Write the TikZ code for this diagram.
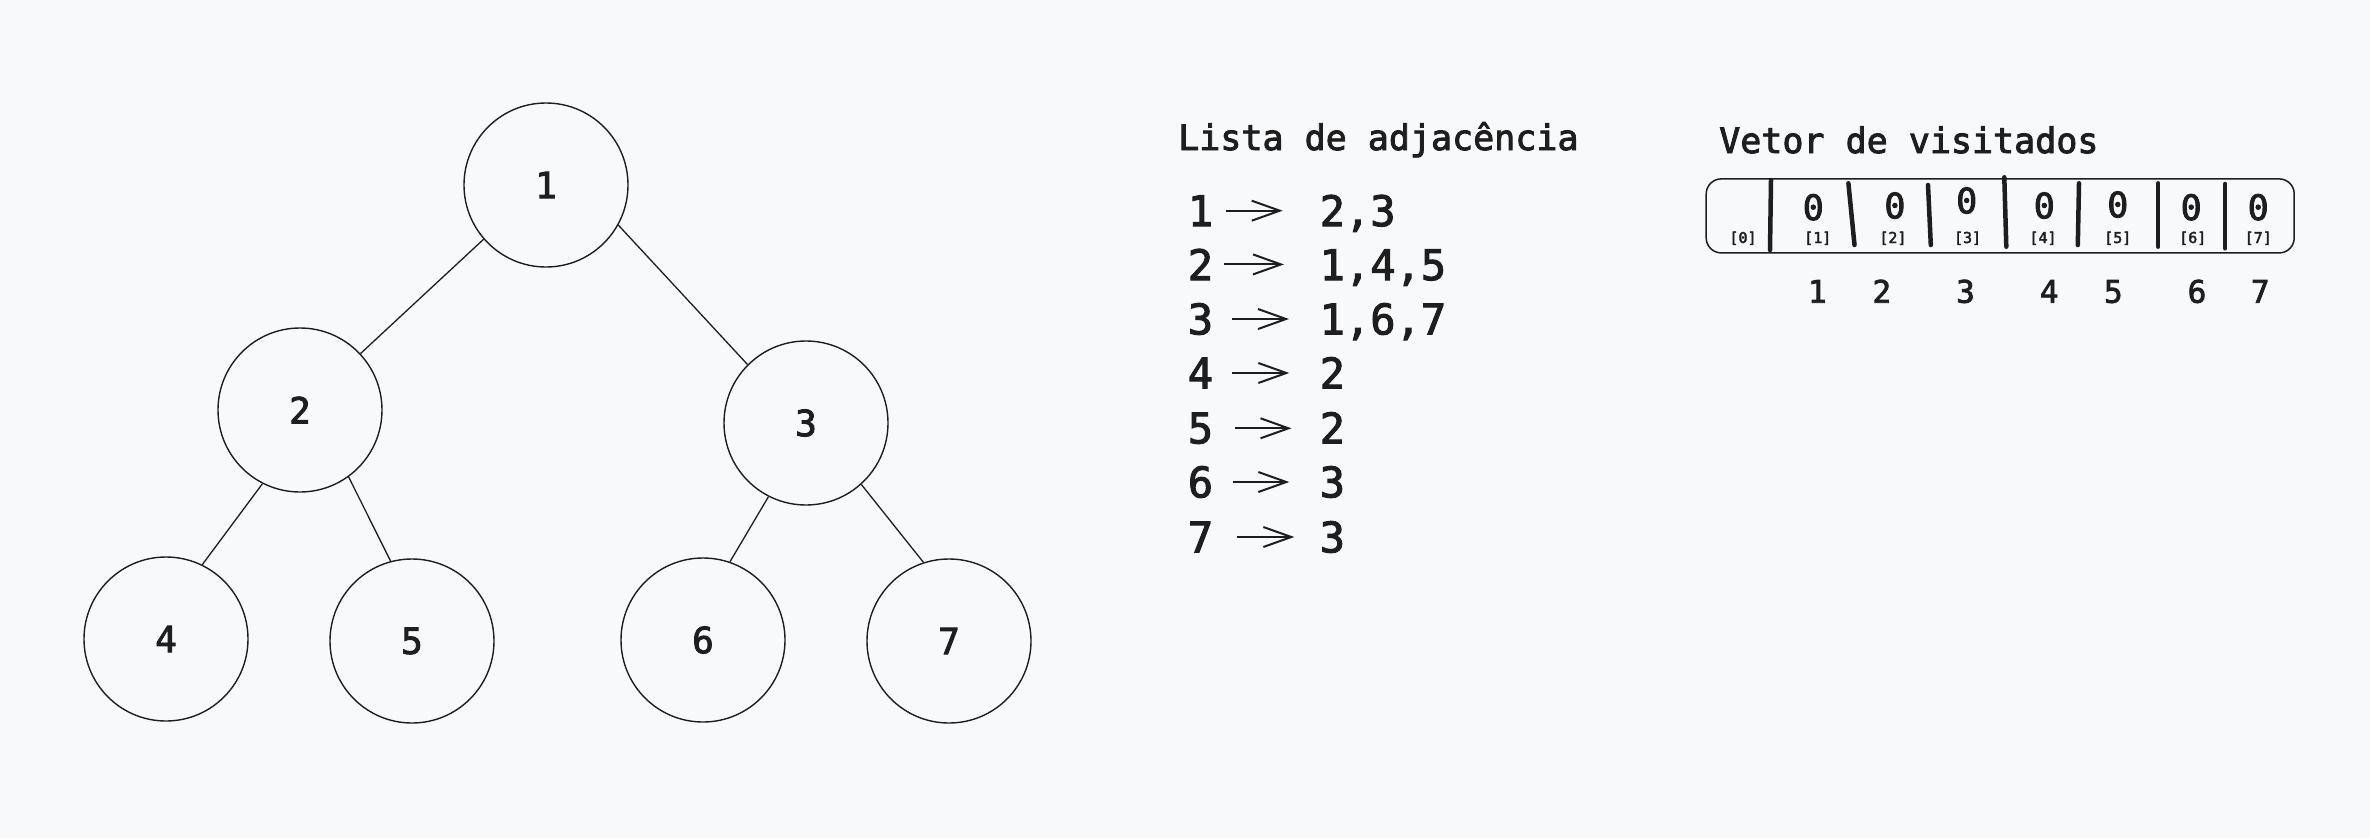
\documentclass[tikz,border=0pt]{standalone}
\usepackage{fontspec}
\newfontfamily\mono[FakeBold=2.5]{DejaVu Sans Mono}
\usetikzlibrary{arrows.meta}
\definecolor{bg}{HTML}{F8F9FB}
\definecolor{ink}{HTML}{1E1E1E}
\begin{document}
\begin{tikzpicture}[x=1pt,y=-1pt,
  vert/.style={circle,draw=ink,line width=1.4pt,minimum size=164pt,inner sep=0pt,text=ink,font=\mono\fontsize{36}{40}\selectfont},
  edge/.style={draw=ink,line width=1.3pt},
  ttl/.style={anchor=base west,inner sep=0pt,text=ink,font=\mono\fontsize{35}{40}\selectfont},
  lst/.style={inner sep=0pt,text=ink,font=\mono\fontsize{42}{48}\selectfont},
  arr/.style={draw=ink,line width=2pt,-{Straight Barb[length=28pt,width=20pt,line width=2pt]}},
  zero/.style={anchor=base,inner sep=0pt,text=ink,font=\mono\fontsize{35}{40}\selectfont},
  idx/.style={anchor=base,inner sep=0pt,text=ink,font=\mono\fontsize{15}{18}\selectfont},
  num/.style={anchor=base,inner sep=0pt,text=ink,font=\mono\fontsize{31}{36}\selectfont},
  divider/.style={draw=ink,line width=4.5pt,line cap=round},
  vecbox/.style={draw=ink,line width=1.5pt,rounded corners=15pt,minimum width=588pt,minimum height=74pt,inner sep=0pt}
]
\fill[bg] (0,0) rectangle (2370,838);
\useasboundingbox (0,0) rectangle (2370,838);

% tree
\node[vert] (n1) at (546,185) {1};
\node[vert] (n2) at (300,410) {2};
\node[vert] (n3) at (806,423) {3};
\node[vert] (n4) at (166,639) {4};
\node[vert] (n5) at (412,641) {5};
\node[vert] (n6) at (703,640) {6};
\node[vert] (n7) at (949,641) {7};
\draw[edge] (n1.221) -- (n2.43);
\draw[edge] (n1.-29) -- (n3.135);
\draw[edge] (n2.243) -- (n4.64);
\draw[edge] (n2.-54) -- (n5.105);
\draw[edge] (n3.243) -- (n6.71);
\draw[edge] (n3.-48) -- (n7.108);

% adjacency list
\node[ttl] (t1) at (1178,150) {Lista de adjacência};
\foreach \i/\y/\r/\a/\b in {1/226/{2,3}/12.5/36.8, 2/280/{1,4,5}/11/35.5, 3/334.3/{1,6,7}/18.5/30.5, 4/388.3/2/18.5/30.2, 5/443.3/2/22/28, 6/497.3/3/20/30.2, 7/552.3/3/23.5/25.2}{
  \node[lst,anchor=base] (l\i) at (1200.5,\y) {\i};
  \node[lst,anchor=base west] (r\i) at (1319.5,\y) {\r};
  \draw[arr] ([xshift=\a pt]l\i.east) -- ([xshift=-\b pt]l\i.east -| r\i.west);
}

% visited vector
\node[ttl] (t2) at (1719,153) {Vetor de visitados};
\node[vecbox] (vec) at (2000.2,215.9) {};
\draw[divider] (1771,180) -- (1770,250);
\draw[divider] (1848.4,183.3) -- (1854.5,245);
\draw[divider] (1928,185) -- (1930.8,245);
\draw[divider] (2004.3,177.3) -- (2006.3,246.7);
\draw[divider] (2079,183.3) -- (2077.8,245);
\draw[divider] (2158.2,183.3) -- (2158.2,246.7);
\draw[divider] (2225.1,184) -- (2225.1,248.3);
\foreach \i/\x/\y in {1/1813.3/220, 2/1894.9/218.3, 3/1966.7/213.3, 4/2044.3/218.3, 5/2117.8/217.3, 6/2191.2/220, 7/2258.2/220}{
  \node[zero] (v\i) at (\x,\y) {0};
}
\foreach \i/\x in {0/1743, 1/1817.8, 2/1892.9, 3/1967.6, 4/2043, 5/2117.8, 6/2192.8, 7/2258.2}{
  \node[idx] (i\i) at (\x,243) {[\i]};
}
\foreach \i/\x in {1/1817.3, 2/1881.8, 3/1965.5, 4/2049.2, 5/2113.3, 6/2197, 7/2260.2}{
  \node[num] (c\i) at (\x,302.7) {\i};
}
\end{tikzpicture}
\end{document}
